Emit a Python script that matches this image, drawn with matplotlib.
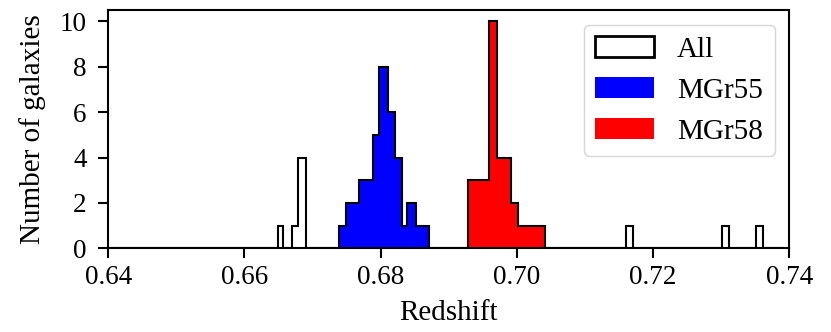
import numpy as np
import matplotlib
matplotlib.use("Agg")
import matplotlib.pyplot as plt
from matplotlib.patches import Patch

plt.rcParams['font.family'] = ['Liberation Serif', 'DejaVu Serif']
plt.rcParams['font.size'] = 21

# bin edges (redshift) and counts
all_edges = [0.6383, 0.66487, 0.66565, 0.66693, 0.66790, 0.66908, 0.71598,
             0.71707, 0.73011, 0.73114, 0.73510, 0.73613, 0.73912]
all_counts = [0, 1, 0, 1, 4, 0, 1, 0, 1, 0, 1, 0]

mgr55_edges = [0.67383, 0.67490, 0.67586, 0.67681, 0.67781, 0.67883, 0.67979,
               0.68107, 0.68214, 0.68317, 0.68386, 0.68514, 0.68614, 0.68714]
mgr55_counts = [1, 2, 2, 3, 3, 5, 8, 6, 4, 1, 2, 1, 1]

mgr58_edges = [0.69286, 0.69386, 0.69486, 0.69586, 0.69712, 0.69811, 0.69909,
               0.70016, 0.70115, 0.70214, 0.70314, 0.70413]
mgr58_counts = [3, 3, 3, 10, 4, 4, 2, 1, 1, 1, 1]

xticks = [0.64, 0.66, 0.68, 0.70, 0.72, 0.74]
yticks = [0, 2, 4, 6, 8, 10]

fig = plt.figure(figsize=(8.31, 3.32), dpi=100)
ax = fig.add_axes([0.1303, 0.2521, 0.8195, 0.7178])

ax.stairs(all_counts, all_edges, color='k', lw=1.5, label='All')
ax.stairs(mgr55_counts, mgr55_edges, fill=True, color='blue', label='MGr55')
ax.stairs(mgr55_counts, mgr55_edges, color='k', lw=1.5)
ax.stairs(mgr58_counts, mgr58_edges, fill=True, color='red', label='MGr58')
ax.stairs(mgr58_counts, mgr58_edges, color='k', lw=1.5)

ax.set_xlim(0.64, 0.74)
ax.set_ylim(0, 10.5)
ax.set_xticks(xticks)
ax.set_yticks(yticks)
ax.set_xlabel('Redshift', fontsize=21, labelpad=7)
ax.set_ylabel('Number of galaxies', fontsize=21, labelpad=10)
for s in ax.spines.values():
    s.set_linewidth(1.5)
ax.tick_params(width=1.5, length=7, labelsize=19.5)
ax.tick_params(axis='x', pad=5)
ax.tick_params(axis='y', pad=8.5)

handles = [Patch(facecolor='none', edgecolor='k', lw=2),
           Patch(facecolor='blue'), Patch(facecolor='red')]
ax.legend(handles, ['All', 'MGr55', 'MGr58'], loc='upper right', fontsize=21,
          labelspacing=0.5)

fig.savefig('out.png', dpi=100)
